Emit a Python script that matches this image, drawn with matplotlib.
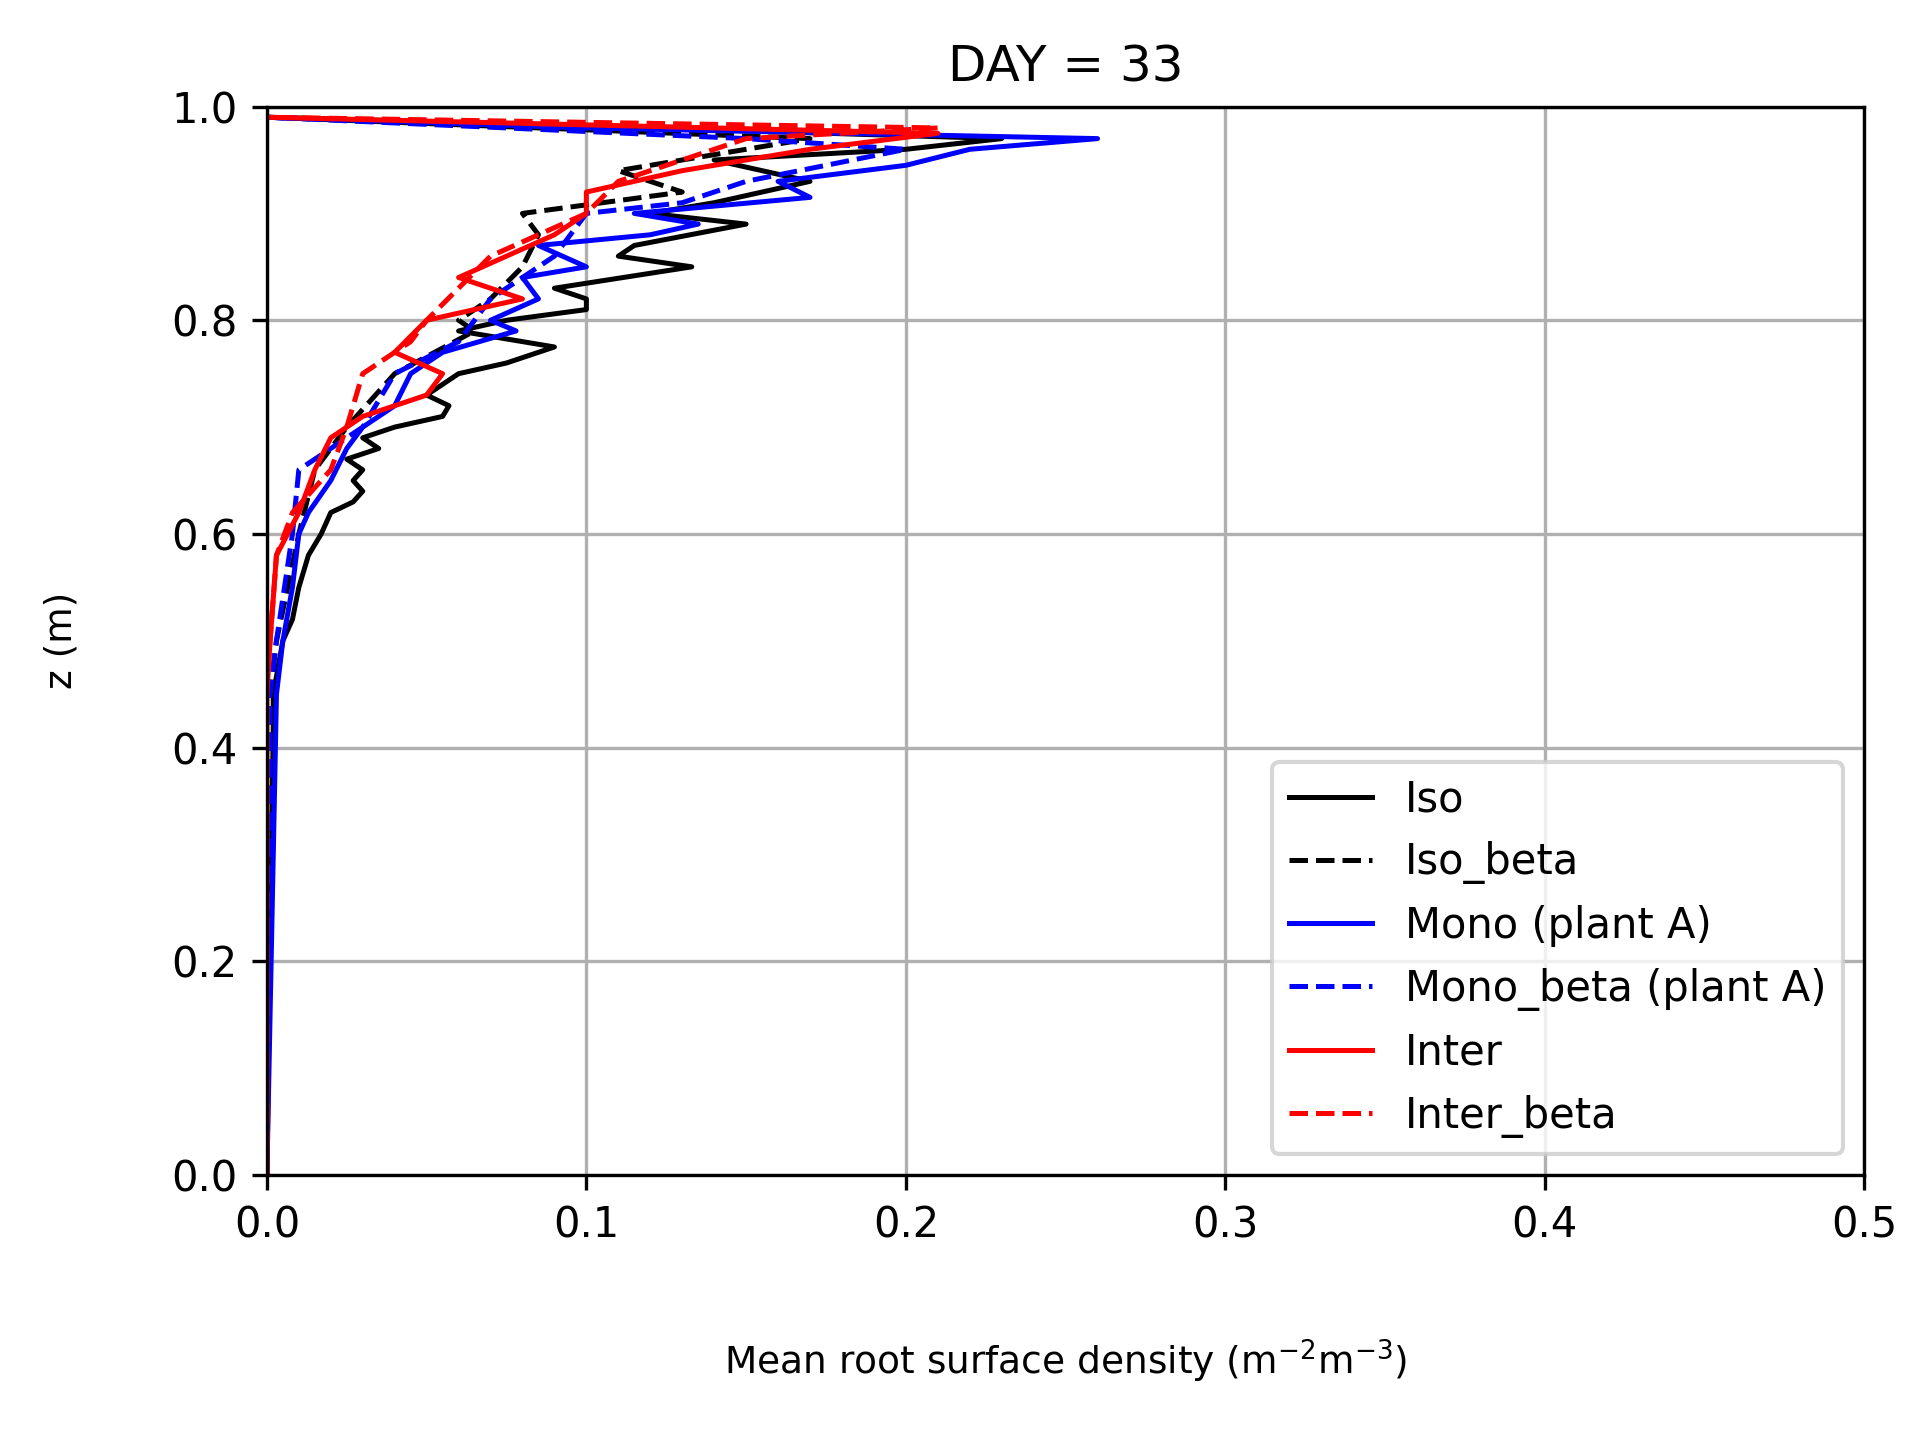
import matplotlib
matplotlib.use("Agg")
import matplotlib.pyplot as plt

iso_z = [0.0, 0.42, 0.45, 0.50, 0.52, 0.55, 0.58, 0.60, 0.62, 0.63, 0.64, 0.65, 0.66, 0.67, 0.68, 0.69, 0.70, 0.71, 0.72, 0.73, 0.75, 0.76, 0.775, 0.79, 0.80, 0.81, 0.82, 0.83, 0.85, 0.86, 0.87, 0.89, 0.90, 0.91, 0.93, 0.95, 0.96, 0.97, 0.98, 0.99]
iso_v = [0.0, 0.002, 0.002, 0.005, 0.008, 0.010, 0.013, 0.017, 0.020, 0.027, 0.030, 0.027, 0.030, 0.025, 0.035, 0.030, 0.040, 0.055, 0.057, 0.050, 0.060, 0.075, 0.090, 0.060, 0.075, 0.100, 0.100, 0.090, 0.133, 0.110, 0.115, 0.150, 0.120, 0.140, 0.170, 0.140, 0.200, 0.230, 0.120, 0.0]

isob_z = [0.0, 0.45, 0.50, 0.60, 0.66, 0.70, 0.75, 0.79, 0.80, 0.82, 0.85, 0.88, 0.90, 0.92, 0.94, 0.96, 0.97, 0.99]
isob_v = [0.0, 0.001, 0.003, 0.010, 0.015, 0.025, 0.040, 0.065, 0.060, 0.070, 0.080, 0.085, 0.080, 0.130, 0.110, 0.150, 0.170, 0.0]

mono_z = [0.0, 0.45, 0.50, 0.55, 0.60, 0.62, 0.65, 0.68, 0.70, 0.72, 0.75, 0.77, 0.79, 0.80, 0.82, 0.84, 0.85, 0.87, 0.88, 0.89, 0.90, 0.915, 0.93, 0.945, 0.96, 0.97, 0.98, 0.99]
mono_v = [0.0, 0.003, 0.005, 0.008, 0.010, 0.013, 0.020, 0.025, 0.030, 0.040, 0.045, 0.055, 0.078, 0.070, 0.085, 0.080, 0.100, 0.085, 0.120, 0.135, 0.115, 0.170, 0.160, 0.200, 0.220, 0.260, 0.100, 0.0]

monob_z = [0.0, 0.45, 0.50, 0.60, 0.66, 0.70, 0.75, 0.78, 0.82, 0.86, 0.90, 0.91, 0.93, 0.96, 0.97, 0.99]
monob_v = [0.0, 0.001, 0.003, 0.008, 0.010, 0.030, 0.040, 0.060, 0.070, 0.090, 0.100, 0.130, 0.150, 0.200, 0.150, 0.0]

inter_z = [0.0, 0.45, 0.50, 0.58, 0.62, 0.66, 0.69, 0.71, 0.73, 0.75, 0.77, 0.80, 0.82, 0.84, 0.86, 0.88, 0.90, 0.92, 0.94, 0.96, 0.975, 0.99]
inter_v = [0.0, 0.0, 0.001, 0.003, 0.010, 0.015, 0.020, 0.030, 0.050, 0.055, 0.040, 0.050, 0.080, 0.060, 0.075, 0.090, 0.100, 0.100, 0.130, 0.170, 0.210, 0.0]

interb_z = [0.0, 0.45, 0.50, 0.58, 0.62, 0.66, 0.70, 0.75, 0.78, 0.80, 0.83, 0.86, 0.88, 0.90, 0.93, 0.95, 0.97, 0.98, 0.99]
interb_v = [0.0, 0.0, 0.001, 0.003, 0.008, 0.020, 0.025, 0.030, 0.045, 0.050, 0.060, 0.070, 0.085, 0.100, 0.110, 0.130, 0.150, 0.210, 0.0]

fig = plt.figure(figsize=(6.4, 4.8), dpi=300)
ax = fig.add_axes([0.139, 0.184, 0.832, 0.742])
ax.plot(iso_v, iso_z, 'k-', lw=1.2, label='Iso')
ax.plot(isob_v, isob_z, 'k--', lw=1.2, label='Iso_beta')
ax.plot(mono_v, mono_z, 'b-', lw=1.2, label='Mono (plant A)')
ax.plot(monob_v, monob_z, 'b--', lw=1.2, label='Mono_beta (plant A)')
ax.plot(inter_v, inter_z, 'r-', lw=1.2, label='Inter')
ax.plot(interb_v, interb_z, 'r--', lw=1.2, label='Inter_beta')
ax.set_xlim(0, 0.5)
ax.set_ylim(0, 1.0)
ax.grid(True)
ax.set_title('DAY = 33')
ax.set_xlabel(r'Mean root surface density (m$^{-2}$m$^{-3}$)', labelpad=22, fontsize=9)
ax.set_ylabel('z (m)', labelpad=22, fontsize=9)
ax.legend(loc='lower right')
fig.savefig('out.png', dpi=300)
